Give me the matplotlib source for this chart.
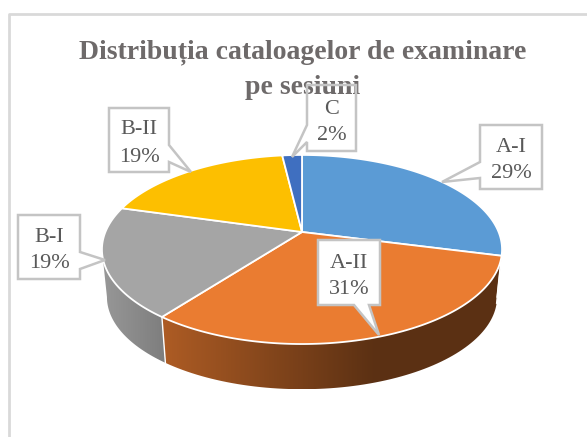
import numpy as np
import matplotlib
matplotlib.use("Agg")
import matplotlib.pyplot as plt
from matplotlib.patches import Polygon
from matplotlib.colors import to_rgb

labels = ["A-I", "A-II", "B-I", "B-II", "C"]
values = [29, 31.4, 19, 18.7, 1.9]
colors = ["#5b9bd5", "#ea7c31", "#a5a5a5", "#fdbf00", "#3f6fc0"]
title_lines = ["Distribuția cataloagelor de examinare", "pe sesiuni"]

# callout box: left, top, right, bottom, tail base 1, tail base 2, tail tip
callouts = {
    "A-I": (480, 125, 542, 189, (480, 162), (480, 178), (442, 182)),
    "A-II": (318, 240, 380, 305, (354, 305), (369, 305), (379, 335)),
    "B-I": (18, 215, 80, 279, (80, 252), (80, 269), (105, 260)),
    "B-II": (109, 108, 169, 172, (169, 145), (169, 162), (191, 172)),
    "C": (307, 85, 356, 151, (307, 125), (307, 142), (292, 157)),
}
label_y = {"A-I": (147, 174), "A-II": (264, 290), "B-I": (237, 264), "B-II": (130, 157), "C": (109, 136)}

# pie projection, in picture pixels
CX, CY = 302, 232
A, B, K = 196.6, 91.3, 0.185
DEPTH, SHRINK = 48, 0.975
GREY = "#595959"
BORDER = "#c4c4c4"
SERIF = "Liberation Serif"


def project(theta, s=1.0, dz=0.0):
    t = np.radians(theta)
    u, v = np.cos(t), np.sin(t)
    w = 1 + K * v
    return CX + A * s * u / w, CY + dz - B * s * v / w


def wall_gradient(ax, poly, x0, x1, color, f0, f1, speed=1.0):
    # shaded side of a slice, darker to the right
    base = np.array(to_rgb(color))
    ramp = (f0 - (f0 - f1) * np.linspace(0, 1, 128) * speed).clip(f1, f0)
    img = (ramp[:, None] * base)[None, :, :]
    y = poly.get_xy()[:, 1]
    im = ax.imshow(img, extent=(x0, x1, y.max(), y.min()), aspect="auto", zorder=2)
    im.set_clip_path(poly)


fig = plt.figure(figsize=(5.87, 4.37), dpi=100)
ax = fig.add_axes([0, 0, 1, 1])
ax.axis("off")

# frame, only left and top are inside the picture
ax.plot([9, 9, 590], [440, 14, 14], color="#d9d9d9", lw=2, zorder=1)

edges = 90 - np.cumsum([0] + values) / sum(values) * 360
vis_left, vis_right = -180 + np.degrees(np.arcsin(K)), -np.degrees(np.arcsin(K))

for i, lab in enumerate(labels):
    t0, t1 = edges[i], edges[i + 1]

    # side wall, only where it faces the viewer
    a, b = min(t0, vis_right), max(t1, vis_left)
    if a > b:
        th = np.linspace(a, b, 80)
        x_top, y_top = project(th)
        x_bot, y_bot = project(th[::-1], SHRINK, DEPTH)
        pts = np.r_[np.c_[x_top, y_top], np.c_[x_bot, y_bot]]
        poly = Polygon(pts, closed=True, fc="none", ec="none", zorder=2)
        ax.add_patch(poly)
        if lab == "A-II":
            wall_gradient(ax, poly, pts[:, 0].min(), 502, colors[i], 0.74, 0.39, 1.6)
        elif lab == "B-I":
            wall_gradient(ax, poly, pts[:, 0].min(), pts[:, 0].max(), colors[i], 0.92, 0.76)
        else:
            poly.set_facecolor(np.array(to_rgb(colors[1])) * 0.39)
        ax.plot([x_top[0], x_bot[-1]], [y_top[0], y_bot[-1]], color="white", lw=1, zorder=3)

    # top face
    th = np.linspace(t0, t1, 120)
    x, y = project(th)
    ax.add_patch(Polygon(np.r_[[[CX, CY]], np.c_[x, y]], closed=True, fc=colors[i],
                         ec="white", lw=1.3, zorder=4))

# callouts
for i, lab in enumerate(labels):
    l, t, r, b, p, q, tip = callouts[lab]
    # insert the tail between the corners of the side it leaves from
    if p[0] == l:
        outline = [(l, t), (r, t), (r, b), (l, b), q, tip, p]
    elif p[0] == r:
        outline = [(l, t), (r, t), p, tip, q, (r, b), (l, b)]
    else:
        outline = [(l, t), (r, t), (r, b), q, tip, p, (l, b)]
    ax.add_patch(Polygon(outline, closed=True, fc="white", ec="none", zorder=5))
    ax.add_patch(Polygon(outline, closed=True, fc="none", ec=BORDER, lw=1.8, zorder=7))
    y1, y2 = label_y[lab]
    ax.text((l + r) / 2, y1, lab, ha="center", va="center",
            family=SERIF, fontsize=16, color=GREY, zorder=8)
    ax.text((l + r) / 2, y2, f"{values[i]:.0f}%", ha="center", va="center",
            family=SERIF, fontsize=16, color=GREY, zorder=8)

for line, yy in zip(title_lines, [52, 87]):
    ax.text(303, yy, line, ha="center", va="center", family=SERIF, weight="bold",
            fontsize=20, color="#6e6a6a", zorder=6)

ax.set_xlim(0, 587)
ax.set_ylim(437, 0)
fig.savefig("out.png", dpi=100)
